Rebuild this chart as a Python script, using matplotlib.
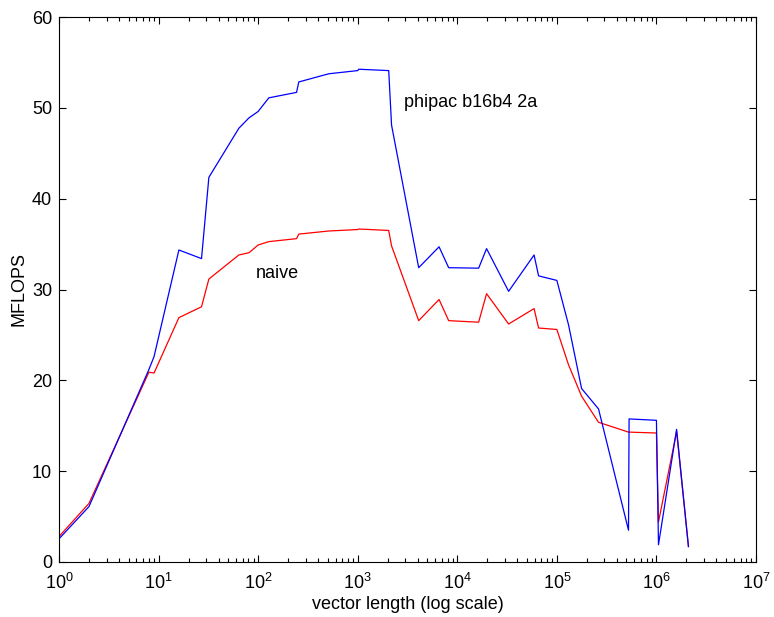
import numpy as np
import matplotlib
matplotlib.use("Agg")
import matplotlib.pyplot as plt

plt.rcParams['font.family'] = ['Liberation Sans', 'DejaVu Sans']
plt.rcParams['font.size'] = 13

# vector lengths (powers of 2, 3 and 10)
vec_len = [1, 2, 8, 9, 16, 27, 32, 64, 81, 100, 128, 243, 256, 512, 1000, 1024,
           2048, 2187, 4096, 6561, 8192, 16384, 19683, 32768, 59049, 65536,
           100000, 131072, 177147, 262144, 524288, 531441, 1000000, 1048576,
           1594323, 2097152]

# MFLOPS, phipac b16b4 2a
phipac = [2.55, 6.1, 21.2, 22.6, 34.35, 33.4, 42.35, 47.75, 48.9, 49.6, 51.1,
          51.7, 52.85, 53.75, 54.1, 54.25, 54.1, 48.1, 32.4, 34.7, 32.4, 32.35,
          34.5, 29.8, 33.8, 31.5, 31.0, 26.1, 19.1, 16.85, 3.5, 15.75, 15.6,
          1.9, 14.6, 1.7]

# MFLOPS, naive
naive = [2.8, 6.45, 20.9, 20.8, 26.9, 28.1, 31.15, 33.8, 34.05, 34.9, 35.27,
         35.6, 36.1, 36.44, 36.6, 36.66, 36.5, 34.8, 26.57, 28.9, 26.57, 26.4,
         29.54, 26.2, 27.9, 25.76, 25.6, 21.7, 18.25, 15.38, 14.3, 14.3, 14.2,
         4.4, 14.35, 1.7]

fig = plt.figure(figsize=(7.74, 6.17), dpi=100)
ax = fig.add_axes([59/774, 55/617, 697/774, 545/617])

ax.semilogx(vec_len, naive, color='red', lw=0.9)
ax.semilogx(vec_len, phipac, color='blue', lw=0.9)

ax.set_xlim(1, 1e7)
ax.set_ylim(0, 60)
ax.set_yticks(np.arange(0, 61, 10))
ax.set_xticks([10.0**k for k in range(8)])

ax.tick_params(which='both', direction='in', top=True, right=True, width=0.8)
ax.tick_params(which='major', length=5)
ax.tick_params(axis='y', which='major', pad=5)
ax.tick_params(axis='x', which='major', pad=8)
ax.tick_params(which='minor', length=2.7)
for s in ax.spines.values():
    s.set_linewidth(0.8)

ax.text(2900, 50.1, 'phipac b16b4 2a', fontsize=13)
ax.text(94, 31.3, 'naive', fontsize=13)

ax.set_xlabel('vector length (log scale)', labelpad=2)
ax.set_ylabel('MFLOPS', labelpad=3)

fig.savefig('out.png', dpi=100)
